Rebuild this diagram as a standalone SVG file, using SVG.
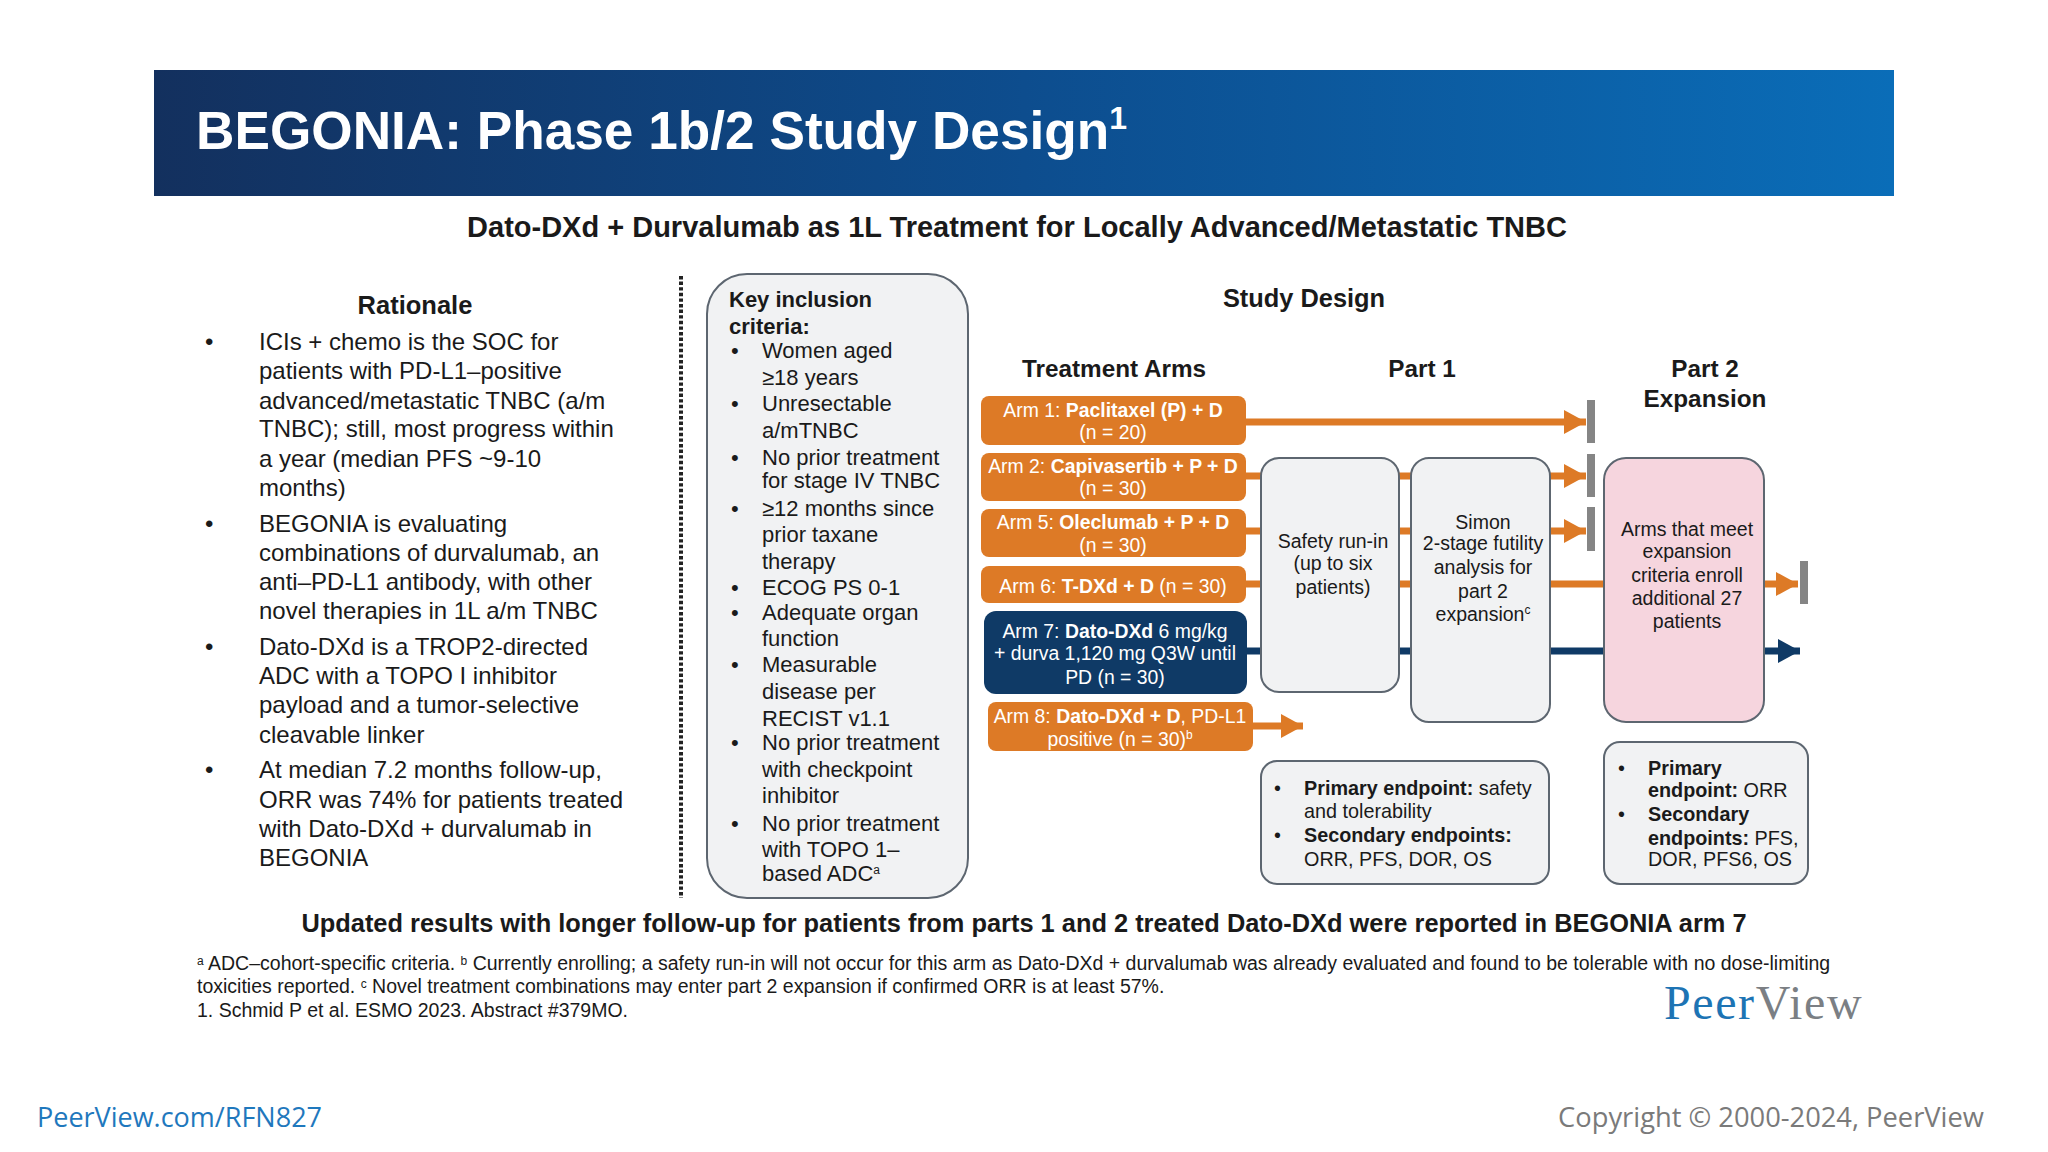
<svg xmlns="http://www.w3.org/2000/svg" width="2048" height="1152" viewBox="0 0 2048 1152">
<defs>
<linearGradient id="hdr" x1="0" x2="1" y1="0" y2="0"><stop offset="0" stop-color="#13305e"/><stop offset="0.5" stop-color="#0d4d8e"/><stop offset="1" stop-color="#0a6db8"/></linearGradient>
<marker id="ho" markerUnits="userSpaceOnUse" markerWidth="24" markerHeight="24" refX="22" refY="12" orient="auto"><path d="M0 0L22 12L0 24z" fill="#dd7a26"/></marker>
<marker id="hn" markerUnits="userSpaceOnUse" markerWidth="24" markerHeight="24" refX="22" refY="12" orient="auto"><path d="M0 0L22 12L0 24z" fill="#0f3a66"/></marker>
</defs>
<style>
text{font-family:"Liberation Sans",Arial,sans-serif;fill:#1a1a1a}
.b,.b tspan{font-weight:700}
tspan.b{font-weight:700}
.l{font-size:24px}
.k{font-size:22px}
.a{font-size:19.4px;fill:#fff;text-anchor:middle}
.a tspan{fill:#fff}
.h{font-size:24.3px;font-weight:700;text-anchor:middle}
.m{font-size:19.5px;text-anchor:middle}
.e{font-size:19.8px}
.f{font-size:19.5px}
.s{font-size:12px}
.oa{fill:#dd7a26}
.na{fill:#0f3a66}
.box{fill:#f1f2f3;stroke:#5d6670;stroke-width:2}
.ol{stroke:#dd7a26;stroke-width:7;fill:none;marker-end:url(#ho)}
.nl{stroke:#0f3a66;stroke-width:7;fill:none;marker-end:url(#hn)}
.bar{fill:#858585}
</style>
<rect width="2048" height="1152" fill="#fff"/>
<g id="header"><rect x="154" y="70" width="1740" height="126" fill="url(#hdr)"/>
<text x="196" y="149" font-size="53.2" font-weight="700" style="fill:#fff">BEGONIA: Phase 1b/2 Study Design<tspan font-size="32" dy="-20" style="fill:#fff" font-weight="700">1</tspan></text></g>
<text x="1017" y="237" font-size="29" font-weight="700" text-anchor="middle">Dato-DXd + Durvalumab as 1L Treatment for Locally Advanced/Metastatic TNBC</text>
<g id="rationale">
<text x="415" y="314" font-size="25.5" font-weight="700" text-anchor="middle">Rationale</text>
<g class="l">
<text x="205" y="350">•</text><text x="259" y="350">ICIs + chemo is the SOC for</text>
<text x="259" y="379">patients with PD-L1–positive</text>
<text x="259" y="409">advanced/metastatic TNBC (a/m</text>
<text x="259" y="437">TNBC); still, most progress within</text>
<text x="259" y="467">a year (median PFS ~9-10</text>
<text x="259" y="496">months)</text>
<text x="205" y="532">•</text><text x="259" y="532">BEGONIA is evaluating</text>
<text x="259" y="561">combinations of durvalumab, an</text>
<text x="259" y="590">anti–PD-L1 antibody, with other</text>
<text x="259" y="619">novel therapies in 1L a/m TNBC</text>
<text x="205" y="655">•</text><text x="259" y="655">Dato-DXd is a TROP2-directed</text>
<text x="259" y="684">ADC with a TOPO I inhibitor</text>
<text x="259" y="713">payload and a tumor-selective</text>
<text x="259" y="743">cleavable linker</text>
<text x="205" y="778">•</text><text x="259" y="778">At median 7.2 months follow-up,</text>
<text x="259" y="808">ORR was 74% for patients treated</text>
<text x="259" y="837">with Dato-DXd + durvalumab in</text>
<text x="259" y="866">BEGONIA</text>
</g></g>
<line id="divider" x1="681" y1="276" x2="681" y2="898" stroke="#222" stroke-width="4" stroke-dasharray="3.4 2.2"/>
<g id="key-criteria"><rect class="box" x="707" y="274" width="261" height="624" rx="40"/>
<g class="k">
<text x="729" y="307" class="b">Key inclusion</text>
<text x="729" y="334" class="b">criteria:</text>
<text x="731" y="358">•</text><text x="762" y="358">Women aged</text>
<text x="762" y="385">≥18 years</text>
<text x="731" y="411">•</text><text x="762" y="411">Unresectable</text>
<text x="762" y="438">a/mTNBC</text>
<text x="731" y="465">•</text><text x="762" y="465">No prior treatment</text>
<text x="762" y="488">for stage IV TNBC</text>
<text x="731" y="516">•</text><text x="762" y="516">≥12 months since</text>
<text x="762" y="542">prior taxane</text>
<text x="762" y="569">therapy</text>
<text x="731" y="595">•</text><text x="762" y="595">ECOG PS 0-1</text>
<text x="731" y="620">•</text><text x="762" y="620">Adequate organ</text>
<text x="762" y="646">function</text>
<text x="731" y="672">•</text><text x="762" y="672">Measurable</text>
<text x="762" y="699">disease per</text>
<text x="762" y="726">RECIST v1.1</text>
<text x="731" y="750">•</text><text x="762" y="750">No prior treatment</text>
<text x="762" y="777">with checkpoint</text>
<text x="762" y="803">inhibitor</text>
<text x="731" y="831">•</text><text x="762" y="831">No prior treatment</text>
<text x="762" y="857">with TOPO 1–</text>
<text x="762" y="881">based ADC<tspan class="s" dy="-7">a</tspan></text>
</g></g>
<text x="1304" y="307" class="h" style="font-size:25.4px">Study Design</text>
<text x="1114" y="377" class="h">Treatment Arms</text>
<text x="1422" y="377" class="h">Part 1</text>
<text x="1705" y="377" class="h">Part 2</text>
<text x="1705" y="407" class="h">Expansion</text>
<g id="connectors">
<line class="ol" x1="1246" y1="422" x2="1586" y2="422"/>
<line class="ol" x1="1246" y1="476" x2="1586" y2="476"/>
<line class="ol" x1="1246" y1="531" x2="1586" y2="531"/>
<line class="ol" x1="1246" y1="584" x2="1798" y2="584"/>
<line class="nl" x1="1247" y1="651" x2="1800" y2="651"/>
<line class="ol" x1="1253" y1="726" x2="1303" y2="726"/>
<rect class="bar" x="1587" y="400" width="8" height="43"/>
<rect class="bar" x="1587" y="454" width="8" height="43"/>
<rect class="bar" x="1587" y="507" width="8" height="44"/>
<rect class="bar" x="1800" y="561" width="8" height="43"/>
</g>
<g id="arm1"><rect class="oa" x="981" y="396" width="265" height="49" rx="8"/><text class="a"><tspan x="1113" y="417">Arm 1: <tspan class="b">Paclitaxel (P) + D</tspan></tspan><tspan x="1113" y="439">(n = 20)</tspan></text></g>
<g id="arm2"><rect class="oa" x="981" y="453" width="265" height="48" rx="8"/><text class="a"><tspan x="1113" y="473">Arm 2: <tspan class="b">Capivasertib + P + D</tspan></tspan><tspan x="1113" y="495">(n = 30)</tspan></text></g>
<g id="arm5"><rect class="oa" x="981" y="509" width="265" height="48" rx="8"/><text class="a"><tspan x="1113" y="529">Arm 5: <tspan class="b">Oleclumab + P + D</tspan></tspan><tspan x="1113" y="552">(n = 30)</tspan></text></g>
<g id="arm6"><rect class="oa" x="981" y="566" width="265" height="37" rx="8"/><text class="a"><tspan x="1113" y="593">Arm 6: <tspan class="b">T-DXd + D</tspan> (n = 30)</tspan></text></g>
<g id="arm7"><rect class="na" x="984" y="611" width="263" height="83" rx="12"/><text class="a"><tspan x="1115" y="638">Arm 7: <tspan class="b">Dato-DXd</tspan> 6 mg/kg</tspan><tspan x="1115" y="660">+ durva 1,120 mg Q3W until</tspan><tspan x="1115" y="684">PD (n = 30)</tspan></text></g>
<g id="arm8"><rect class="oa" x="988" y="702" width="265" height="49" rx="8"/><text class="a"><tspan x="1120" y="723">Arm 8: <tspan class="b">Dato-DXd + D</tspan>, PD-L1</tspan><tspan x="1120" y="746">positive (n = 30)<tspan class="s" dy="-7">b</tspan></tspan></text></g>
<g id="safety-run-in"><rect class="box" x="1261" y="458" width="138" height="234" rx="18"/><text class="m"><tspan x="1333" y="548">Safety run-in</tspan><tspan x="1333" y="570">(up to six</tspan><tspan x="1333" y="594">patients)</tspan></text></g>
<g id="simon"><rect class="box" x="1411" y="458" width="139" height="264" rx="18"/><text class="m"><tspan x="1483" y="529">Simon</tspan><tspan x="1483" y="550">2-stage futility</tspan><tspan x="1483" y="574">analysis for</tspan><tspan x="1483" y="598">part 2</tspan><tspan x="1483" y="621">expansion<tspan class="s" dy="-7">c</tspan></tspan></text></g>
<g id="part2-expansion"><rect x="1604" y="458" width="160" height="264" rx="22" fill="#f6d5de" stroke="#5d6670" stroke-width="2"/><text class="m"><tspan x="1687" y="536">Arms that meet</tspan><tspan x="1687" y="558">expansion</tspan><tspan x="1687" y="582">criteria enroll</tspan><tspan x="1687" y="605">additional 27</tspan><tspan x="1687" y="628">patients</tspan></text></g>
<g id="part1-endpoints"><rect class="box" x="1261" y="761" width="288" height="123" rx="16"/><g class="e">
<text x="1274" y="795">•</text><text x="1304" y="795"><tspan class="b">Primary endpoint:</tspan> safety</text>
<text x="1304" y="818">and tolerability</text>
<text x="1274" y="842">•</text><text x="1304" y="842" class="b">Secondary endpoints:</text>
<text x="1304" y="866">ORR, PFS, DOR, OS</text></g></g>
<g id="part2-endpoints"><rect class="box" x="1604" y="742" width="204" height="142" rx="16"/><g class="e">
<text x="1618" y="775">•</text><text x="1648" y="775" class="b">Primary</text>
<text x="1648" y="797"><tspan class="b">endpoint:</tspan> ORR</text>
<text x="1618" y="821">•</text><text x="1648" y="821" class="b">Secondary</text>
<text x="1648" y="845"><tspan class="b">endpoints:</tspan> PFS,</text>
<text x="1648" y="866">DOR, PFS6, OS</text></g></g>
<text x="1024" y="932" font-size="25.4" font-weight="700" text-anchor="middle">Updated results with longer follow-up for patients from parts 1 and 2 treated Dato-DXd were reported in BEGONIA arm 7</text>
<g id="footnotes" class="f">
<text x="197" y="970"><tspan class="s" dy="-5">a</tspan><tspan dy="5"> ADC–cohort-specific criteria. </tspan><tspan class="s" dy="-5">b</tspan><tspan dy="5"> Currently enrolling; a safety run-in will not occur for this arm as Dato-DXd + durvalumab was already evaluated and found to be tolerable with no dose-limiting</tspan></text>
<text x="197" y="993">toxicities reported. <tspan class="s" dy="-5">c</tspan><tspan dy="5"> Novel treatment combinations may enter part 2 expansion if confirmed ORR is at least 57%.</tspan></text>
<text x="197" y="1017">1. Schmid P et al. ESMO 2023. Abstract #379MO.</text>
</g>
<text id="logo" x="1664" y="1019" font-size="48" letter-spacing="1.6" style="font-family:'Liberation Serif',serif;fill:#1d74b4">Peer<tspan style="fill:#7b7f84">View</tspan></text>
<text x="37" y="1127" font-size="27" style="font-family:'Open Sans',sans-serif;fill:#1f78bd">PeerView.com/RFN827</text>
<text x="1984" y="1127" font-size="27.3" text-anchor="end" style="font-family:'Open Sans',sans-serif;fill:#7a7a7a">Copyright © 2000-2024, PeerView</text>
</svg>
